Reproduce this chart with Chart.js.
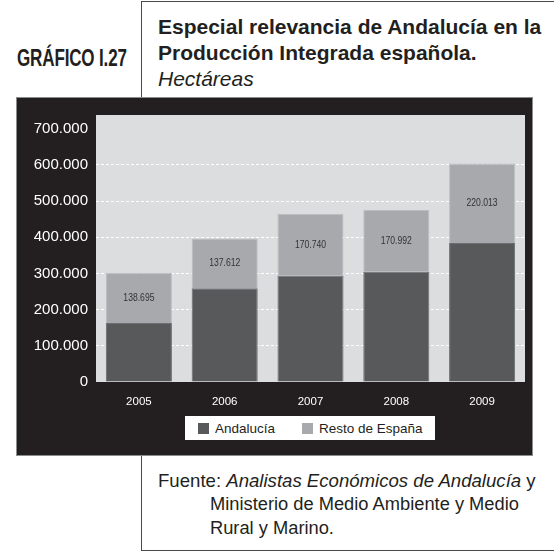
<!DOCTYPE html>
<html lang="es">
<head>
<meta charset="utf-8">
<title>Gráfico I.27</title>
<script src="https://cdn.jsdelivr.net/npm/chart.js@4/dist/chart.umd.min.js"></script>
<style>
    html, body { margin: 0; padding: 0; background: #fff; }
    body { width: 554px; height: 558px; position: relative; overflow: hidden; font-family: "Liberation Sans", Arial, sans-serif; color: #231f20; }
    .linea { position: absolute; background: #4a4a4c; }
    .etiqueta-grafico { position: absolute; left: 17px; top: 45px; font-weight: bold; font-size: 23px; letter-spacing: -0.2px; transform: scaleX(0.74); transform-origin: left top; white-space: nowrap; }
    .titulo { position: absolute; left: 158px; top: 14px; font-size: 21px; line-height: 26px; }
    .titulo b { font-weight: bold; }
    .titulo i { font-weight: normal; }
    #panel { position: absolute; left: 16px; top: 97px; width: 517px; height: 359px; box-sizing: border-box; background: #231f20; border: 1px solid #8a8c8e; }
    #grafico { position: absolute; left: 0; top: 0; }
    #leyenda { position: absolute; left: 168px; top: 318px; width: 250px; height: 24px; background: #fff; display: flex; align-items: center; font-size: 13.5px; color: #231f20; }
    #leyenda .item { display: flex; align-items: center; }
    #leyenda .cuadro { width: 11px; height: 11px; margin-right: 6px; }
    .fuente { position: absolute; left: 158px; top: 469px; font-size: 18.6px; line-height: 23.3px; }
    .fuente .sangria { padding-left: 52px; display: block; font-size: 18.3px; }
</style>
</head>
<body>
    <!-- marcos -->
    <div class="linea" style="left:141px; top:1px; width:1px; height:97px;"></div>
    <div class="linea" style="left:141px; top:1px; width:413px; height:1px;"></div>
    <div class="linea" style="left:141px; top:455px; width:1px; height:96px;"></div>
    <div class="linea" style="left:141px; top:550px; width:413px; height:1px;"></div>

    <div class="etiqueta-grafico">GRÁFICO I.27</div>
    <div class="titulo">
        <b>Especial relevancia de Andalucía en la<br>Producción Integrada española.</b><br>
        <i>Hectáreas</i>
    </div>

    <div id="panel">
        <canvas id="grafico" width="515" height="357"></canvas>
        <div id="leyenda"></div>
    </div>

    <div class="fuente">
        Fuente: <i>Analistas Económicos de Andalucía</i> y
        <span class="sangria">Ministerio de Medio Ambiente y Medio<br>Rural y Marino.</span>
    </div>

<script>
// --- Datos (hectáreas) ---
const anios = ['2005', '2006', '2007', '2008', '2009'];
const andalucia = [163000, 259000, 294000, 305000, 384000];
const restoEspana = [138695, 137612, 170740, 170992, 220013];
const ticksEje = [0, 100000, 200000, 300000, 400000, 500000, 600000, 700000];

const nombresSeries = ['Andalucía', 'Resto de España'];
const coloresSeries = ['#58595b', '#a7a9ac'];

/**
 * Formatea un número con punto como separador de miles.
 */
const formatearMiles = (v) => String(Math.round(v)).replace(/\B(?=(\d{3})+(?!\d))/g, '.');

// Pinta el fondo gris del área de trazado
const fondoArea = {
    id: 'fondoArea',
    beforeDraw(chart) {
        const { ctx, chartArea } = chart;
        ctx.save();
        ctx.fillStyle = '#dcdddf';
        ctx.fillRect(chartArea.left, chartArea.top, chartArea.right - chartArea.left, chartArea.bottom - chartArea.top);
        ctx.restore();
    }
};

// Escribe el valor del resto de España dentro de cada barra (letra estrecha)
const etiquetasResto = {
    id: 'etiquetasResto',
    afterDatasetsDraw(chart) {
        const { ctx } = chart;
        const meta = chart.getDatasetMeta(1);
        ctx.save();
        ctx.font = '10.5px "Liberation Sans", Arial, sans-serif';
        ctx.fillStyle = '#333';
        ctx.textAlign = 'center';
        ctx.textBaseline = 'middle';
        meta.data.forEach((barra, i) => {
            const y = (barra.y + barra.base) / 2;
            ctx.save();
            ctx.translate(barra.x, y);
            ctx.scale(0.82, 1);
            ctx.fillText(formatearMiles(restoEspana[i]), 0, 0);
            ctx.restore();
        });
        ctx.restore();
    }
};

const ctx = document.getElementById('grafico').getContext('2d');

const grafico = new Chart(ctx, {
    type: 'bar',
    data: {
        labels: anios,
        datasets: [
            {
                label: nombresSeries[0],
                data: andalucia,
                backgroundColor: coloresSeries[0],
                borderColor: '#6d6e71',
                borderWidth: 1
            },
            {
                label: nombresSeries[1],
                data: restoEspana,
                backgroundColor: coloresSeries[1],
                borderColor: '#bcbec0',
                borderWidth: 1
            }
        ]
    },
    options: {
        responsive: false,
        animation: false,
        layout: { padding: { top: 12, right: 7, bottom: 45, left: 0 } },
        datasets: { bar: { categoryPercentage: 1, barPercentage: 0.77 } },
        scales: {
            x: {
                stacked: true,
                grid: { display: false },
                border: { display: false },
                ticks: {
                    color: '#ffffff',
                    padding: 5,
                    font: { family: '"Liberation Sans", Arial, sans-serif', size: 11.5 }
                },
                afterFit: (escala) => { escala.height = 28; }
            },
            y: {
                stacked: true,
                min: 0,
                max: 738000,
                afterBuildTicks: (escala) => { escala.ticks = ticksEje.map(v => ({ value: v })); },
                afterFit: (escala) => { escala.width = 79; },
                grid: {
                    drawTicks: false,
                    lineWidth: 1,
                    color: (c) => (c.tick && c.tick.value > 0 && c.tick.value < 700000) ? '#ffffff' : 'rgba(0,0,0,0)'
                },
                border: { display: false, dash: [3, 2] },
                ticks: {
                    color: '#ffffff',
                    padding: 8,
                    font: { family: '"Liberation Sans", Arial, sans-serif', size: 15 },
                    callback: (v) => formatearMiles(v)
                }
            }
        },
        plugins: {
            legend: { display: false },
            tooltip: { enabled: false }
        }
    },
    plugins: [fondoArea, etiquetasResto]
});

// --- Leyenda en HTML a partir de los datasets ---
const leyenda = document.getElementById('leyenda');
grafico.data.datasets.forEach((ds, i) => {
    const item = document.createElement('div');
    item.className = 'item';
    item.style.marginLeft = i === 0 ? '13px' : '27px';
    item.innerHTML = `<span class="cuadro" style="background:${ds.backgroundColor}"></span><span>${ds.label}</span>`;
    leyenda.appendChild(item);
});
</script>
</body>
</html>
